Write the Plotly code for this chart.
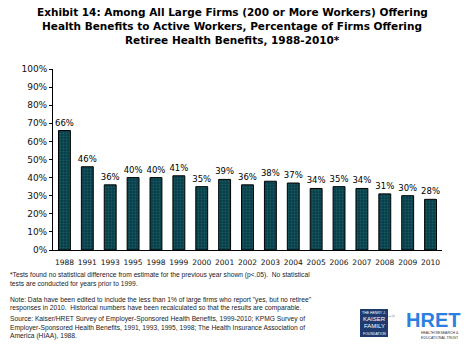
import plotly.graph_objects as go

years = ["1988", "1991", "1993", "1995", "1998", "1999", "2000", "2001", "2002",
         "2003", "2004", "2005", "2006", "2007", "2008", "2009", "2010"]
values = [66, 46, 36, 40, 40, 41, 35, 39, 36, 38, 37, 34, 35, 34, 31, 30, 28]
labels = [f"{v}%" for v in values]
y_ticks = list(range(0, 101, 10))
y_tick_text = [f"{t}%" for t in y_ticks]

W, H = 476, 351
L, R, T, B = 53, 34, 69, 101
PW, PH = W - L - R, H - T - B

def px(x):
    return (x - L) / PW

def py(y):
    return (H - B - y) / PH

fig = go.Figure(go.Bar(
    x=years, y=values, text=labels, textposition="outside", constraintext="none",
    textfont=dict(size=8.5, color="black", family="DejaVu Sans"),
    marker=dict(color="#0b4a58", line=dict(color="black", width=1),
                pattern=dict(shape=".", fgcolor="#2a7a6a", bgcolor="#083e4c", size=3, solidity=0.3)),
    cliponaxis=False, hoverinfo="skip",
))

fig.update_layout(
    width=W, height=H, margin=dict(l=L, r=R, t=T, b=B),
    paper_bgcolor="white", plot_bgcolor="white",
    bargap=0.48, showlegend=False,
    font=dict(family="DejaVu Sans", color="black"),
    xaxis=dict(showline=True, linecolor="black", linewidth=1, ticks="",
               tickfont=dict(size=7.5, color="#111"), showgrid=False,
               tickangle=0, ticklabelstandoff=5),
    yaxis=dict(range=[0, 100], tickvals=y_ticks, ticktext=y_tick_text,
               showline=True, linecolor="black", linewidth=1, ticks="outside",
               ticklen=3, tickcolor="black", tickfont=dict(size=9, color="#111"),
               showgrid=False, zeroline=False),
)

title_lines = [
    "Exhibit 14: Among All Large Firms (200 or More Workers) Offering",
    "Health Benefits to Active Workers, Percentage of Firms Offering",
    "Retiree Health Benefits, 1988-2010*",
]
for i, (line, yy) in enumerate(zip(title_lines, [12, 26, 40])):
    fig.add_annotation(text=f"<b>{line}</b>", x=px(232), y=py(yy), xref="paper", yref="paper",
                       showarrow=False, xanchor="center", yanchor="middle",
                       font=dict(size=10.5, family="DejaVu Sans", color="black"))

notes = [
    ("*Tests found no statistical difference from estimate for the previous year shown (p<.05).  No statistical", 275),
    ("tests are conducted for years prior to 1999.", 284),
    ("Note: Data have been edited to include the less than 1% of large firms who report \"yes, but no retiree\"", 300),
    ("responses in 2010.  Historical numbers have been recalculated so that the results are comparable.", 308),
    ("Source: Kaiser/HRET Survey of Employer-Sponsored Health Benefits, 1999-2010; KPMG Survey of", 319),
    ("Employer-Sponsored Health Benefits, 1991, 1993, 1995, 1998; The Health Insurance Association of", 328),
    ("America (HIAA), 1988.", 336),
]
for txt, yy in notes:
    fig.add_annotation(text=txt, x=px(8), y=py(yy), xref="paper", yref="paper",
                       showarrow=False, xanchor="left", yanchor="middle",
                       font=dict(size=6.7, family="Liberation Sans", color="#222"))

# Logos
fig.add_shape(type="rect", xref="paper", yref="paper", x0=px(360), x1=px(388),
              y0=py(337), y1=py(309), fillcolor="#1e3a6e", line=dict(width=0))
for txt, yy, sz in [("THE HENRY J.", 312.5, 3.5), ("KAISER", 319, 6), ("FAMILY", 326, 6), ("FOUNDATION", 334, 3.5)]:
    fig.add_annotation(text=txt, x=px(374), y=py(yy), xref="paper", yref="paper",
                       showarrow=False, xanchor="center", yanchor="middle",
                       font=dict(size=sz, family="Liberation Sans", color="white"))
fig.add_annotation(text="~&gt;", x=px(398), y=py(321), xref="paper", yref="paper",
                   showarrow=False, font=dict(size=6, color="#888", family="Liberation Sans"))
fig.add_annotation(text="<b>HRET</b>", x=px(433), y=py(320), xref="paper", yref="paper",
                   showarrow=False, xanchor="center", yanchor="middle",
                   font=dict(size=20, family="Liberation Sans", color="#2a7fe0"))
fig.add_annotation(text="HEALTH RESEARCH &amp;<br>EDUCATIONAL TRUST", x=px(440), y=py(335), xref="paper", yref="paper",
                   showarrow=False, xanchor="center", yanchor="middle",
                   font=dict(size=3.5, family="Liberation Sans", color="#333"))

fig.write_html("out.html")
